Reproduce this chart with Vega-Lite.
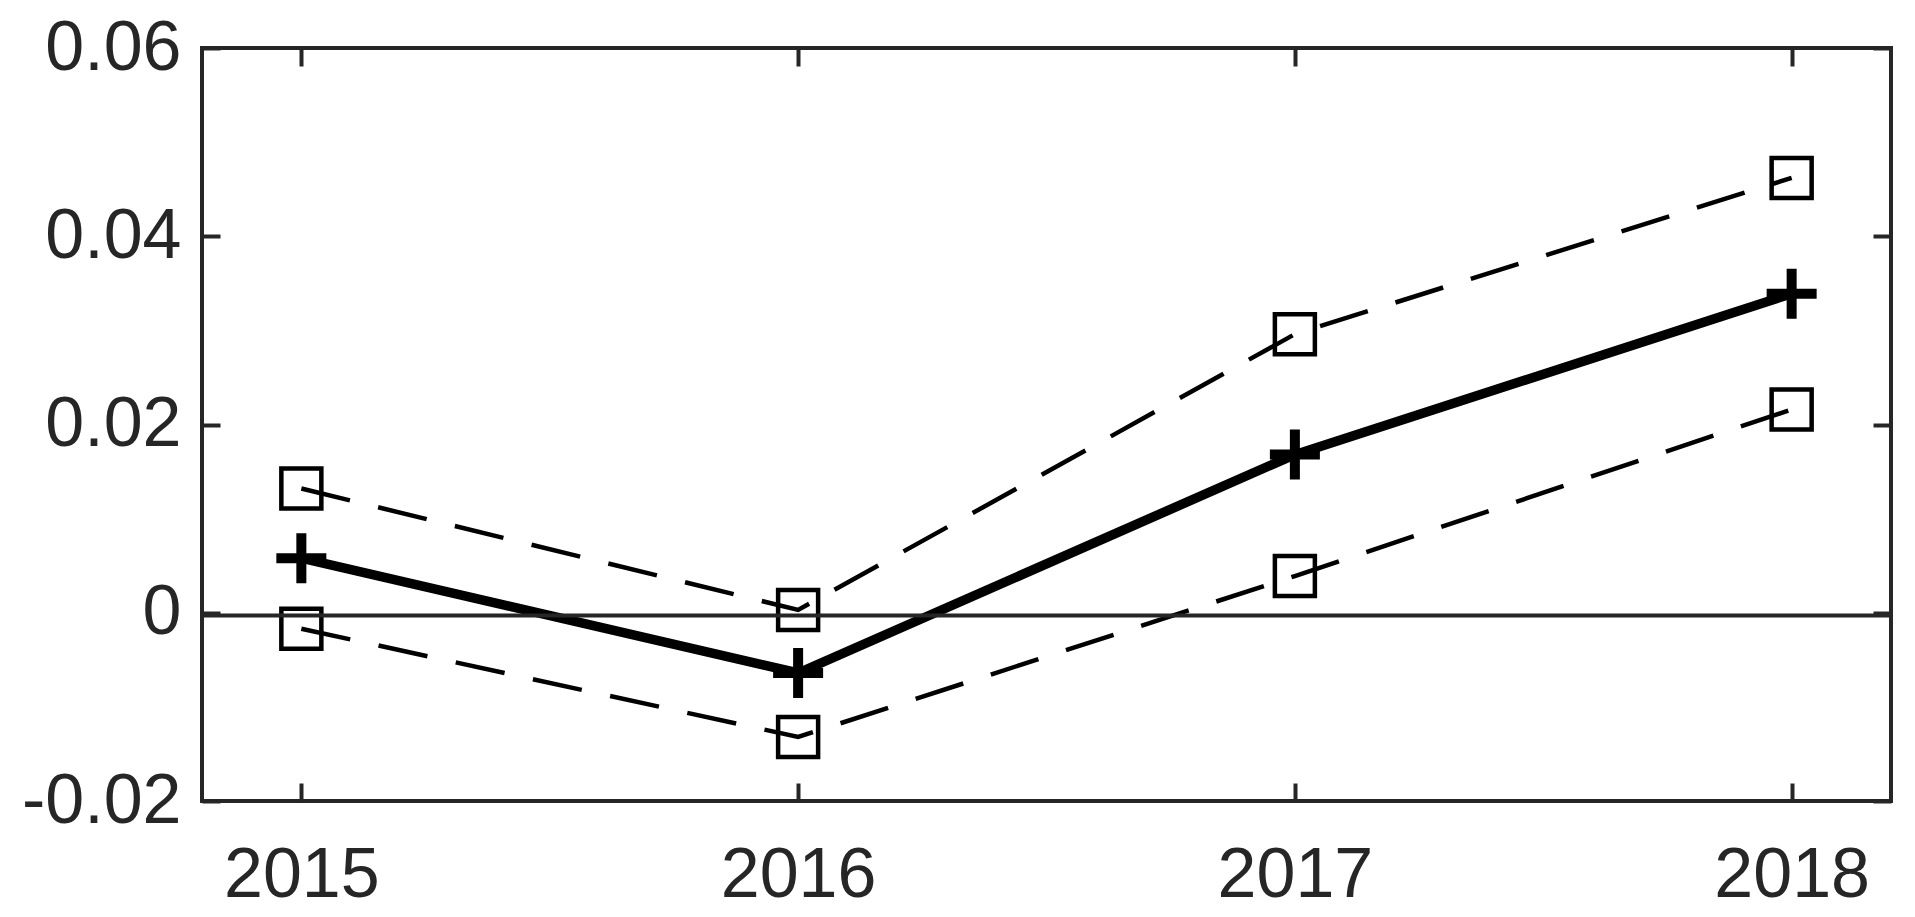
{
  "$schema": "https://vega.github.io/schema/vega-lite/v6.json",
  "autosize": "none",
  "width": 1689,
  "height": 753,
  "padding": {"left": 202, "top": 48, "right": 24, "bottom": 116},
  "background": "white",
  "config": {
    "view": {"stroke": "#262626", "strokeWidth": 4},
    "axis": {
      "domain": false, "grid": false, "title": null,
      "tickColor": "#262626", "tickWidth": 4, "tickSize": -18,
      "labelFont": "Liberation Sans", "labelFontSize": 70, "labelColor": "#262626",
      "labelFlush": false, "labelOverlap": false, "labelBound": false
    }
  },
  "datasets": {
    "series": [
      {"year": 2015, "series": "upper", "value": 0.0132},
      {"year": 2016, "series": "upper", "value": 0.0003},
      {"year": 2017, "series": "upper", "value": 0.0296},
      {"year": 2018, "series": "upper", "value": 0.0462},
      {"year": 2015, "series": "mean", "value": 0.0058},
      {"year": 2016, "series": "mean", "value": -0.0064},
      {"year": 2017, "series": "mean", "value": 0.0168},
      {"year": 2018, "series": "mean", "value": 0.0339},
      {"year": 2015, "series": "lower", "value": -0.0017},
      {"year": 2016, "series": "lower", "value": -0.0132},
      {"year": 2017, "series": "lower", "value": 0.0039},
      {"year": 2018, "series": "lower", "value": 0.0216}
    ],
    "zero": [{"value": -0.0003}]
  },
  "layer": [
    {
      "data": {"name": "series"},
      "transform": [{"filter": "datum.series !== 'mean'"}],
      "mark": {"type": "line", "color": "black", "strokeWidth": 4.5, "strokeDash": [50, 29], "strokeCap": "butt"},
      "encoding": {
        "x": {"field": "year", "type": "quantitative", "scale": {"domain": [2014.8, 2018.2], "nice": false, "zero": false},
              "axis": {"orient": "bottom", "values": [2015, 2016, 2017, 2018], "format": "d", "labelPadding": 58}},
        "y": {"field": "value", "type": "quantitative", "scale": {"domain": [-0.02, 0.06], "nice": false, "zero": false},
              "axis": {"orient": "left", "values": [-0.02, 0, 0.02, 0.04, 0.06], "labelPadding": 39, "labelExpr": "replace(format(datum.value, '~g'), '\u2212', '-')"}},
        "detail": {"field": "series"}
      }
    },
    {
      "data": {"name": "series"},
      "transform": [{"filter": "datum.series !== 'mean'"}],
      "mark": {"type": "point", "shape": "square", "filled": false, "stroke": "black", "strokeWidth": 4.5, "size": 1600, "opacity": 1},
      "encoding": {
        "x": {"field": "year", "type": "quantitative", "axis": null},
        "y": {"field": "value", "type": "quantitative", "axis": null}
      }
    },
    {
      "data": {"name": "series"},
      "transform": [{"filter": "datum.series === 'mean'"}],
      "mark": {"type": "line", "color": "black", "strokeWidth": 9.5},
      "encoding": {
        "x": {"field": "year", "type": "quantitative", "axis": null},
        "y": {"field": "value", "type": "quantitative", "axis": null}
      }
    },
    {
      "data": {"name": "series"},
      "transform": [{"filter": "datum.series === 'mean'"}],
      "mark": {"type": "point", "shape": "M-1,0H1M0,-1V1", "filled": false, "stroke": "black", "strokeWidth": 10, "size": 2500, "opacity": 1, "strokeCap": "butt"},
      "encoding": {
        "x": {"field": "year", "type": "quantitative",
              "axis": {"orient": "top", "values": [2015, 2016, 2017, 2018], "labels": false}},
        "y": {"field": "value", "type": "quantitative",
              "axis": {"orient": "right", "values": [-0.02, 0, 0.02, 0.04, 0.06], "labels": false}}
      }
    },
    {
      "data": {"name": "zero"},
      "mark": {"type": "rule", "color": "#262626", "strokeWidth": 4},
      "encoding": {
        "y": {"field": "value", "type": "quantitative", "axis": null}
      }
    }
  ],
  "resolve": {"axis": {"x": "independent", "y": "independent"}}
}
